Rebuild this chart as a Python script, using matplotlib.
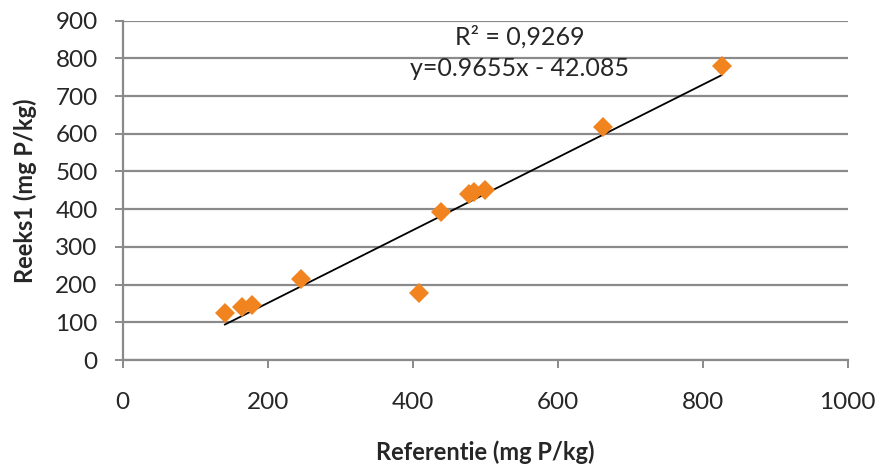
import numpy as np
import matplotlib.pyplot as plt

# values
referentie = [141, 165, 178, 246, 409, 439, 478, 484, 500, 663, 826]
reeks1 = [124, 140, 146, 214, 177, 392, 440, 446, 452, 619, 780]

slope = 0.9655
intercept = -42.085
r2_text = "R² = 0,9269"
eq_text = "y=0.9655x - 42.085"

x_ticks = [0, 200, 400, 600, 800, 1000]
y_ticks = [0, 100, 200, 300, 400, 500, 600, 700, 800, 900]

plt.rcParams['font.family'] = ['Lato', 'DejaVu Sans']
txt = '#262626'
grid_c = '#8a8a8a'

fig = plt.figure(figsize=(8.8, 4.7), dpi=100)
ax = fig.add_axes([0.1394, 0.234, 0.8239, 0.722])

ax.set_xlim(0, 1000)
ax.set_ylim(0, 900)
ax.set_xticks(x_ticks)
ax.set_yticks(y_ticks)

ax.grid(axis='y', color=grid_c, linewidth=1.6, zorder=0)
ax.set_axisbelow(True)
for s in ['top', 'right']:
    ax.spines[s].set_visible(False)
for s in ['left', 'bottom']:
    ax.spines[s].set_color(grid_c)
    ax.spines[s].set_linewidth(1.6)
ax.tick_params(axis='both', direction='out', length=6, width=1.4, color=grid_c,
               labelsize=17.5, labelcolor=txt)
ax.tick_params(axis='x', pad=17)
ax.tick_params(axis='y', pad=12)

# trendline
xs = np.array([min(referentie), max(referentie)])
ax.plot(xs, slope * xs + intercept, color='black', linewidth=1.3, zorder=2)

ax.plot(referentie, reeks1, linestyle='none', marker='D', markersize=10,
        color='#f28420', markeredgewidth=0, zorder=3)

ax.text(548, 858, r2_text, ha='center', va='center', fontsize=18, color=txt)
ax.text(548, 772, eq_text, ha='center', va='center', fontsize=18, color=txt)

ax.set_xlabel("Referentie (mg P/kg)", fontsize=17, fontweight='bold', color=txt,
              labelpad=20)
ax.set_ylabel("Reeks1 (mg P/kg)", fontsize=17, fontweight='bold', color=txt,
              labelpad=13)

fig.savefig('out.png', dpi=100)
